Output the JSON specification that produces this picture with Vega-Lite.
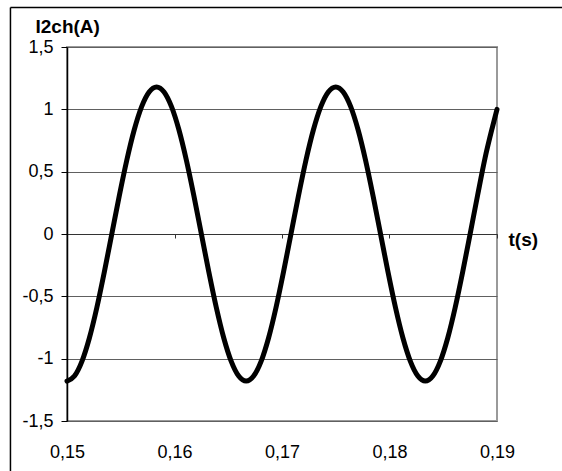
{
  "$schema": "https://vega.github.io/schema/vega-lite/v6.json",
  "width": 430,
  "height": 374,
  "autosize": {"type": "none"},
  "padding": {"left": 67, "top": 47, "right": 65, "bottom": 50},
  "background": "white",
  "config": {
    "font": "Liberation Sans",
    "view": {"stroke": "#9a9a9a", "strokeWidth": 2}
  },
  "data": {
    "values": [
      {"t": 0.15, "i": -1.18},
      {"t": 0.150694, "i": -1.1398},
      {"t": 0.151389, "i": -1.0219},
      {"t": 0.152083, "i": -0.8344},
      {"t": 0.152778, "i": -0.59},
      {"t": 0.153472, "i": -0.3054},
      {"t": 0.154167, "i": 0},
      {"t": 0.154861, "i": 0.3054},
      {"t": 0.155556, "i": 0.59},
      {"t": 0.15625, "i": 0.8344},
      {"t": 0.156944, "i": 1.0219},
      {"t": 0.157639, "i": 1.1398},
      {"t": 0.158333, "i": 1.18},
      {"t": 0.159028, "i": 1.1398},
      {"t": 0.159722, "i": 1.0219},
      {"t": 0.160417, "i": 0.8344},
      {"t": 0.161111, "i": 0.59},
      {"t": 0.161806, "i": 0.3054},
      {"t": 0.1625, "i": 0},
      {"t": 0.163194, "i": -0.3054},
      {"t": 0.163889, "i": -0.59},
      {"t": 0.164583, "i": -0.8344},
      {"t": 0.165278, "i": -1.0219},
      {"t": 0.165972, "i": -1.1398},
      {"t": 0.166667, "i": -1.18},
      {"t": 0.167361, "i": -1.1398},
      {"t": 0.168056, "i": -1.0219},
      {"t": 0.16875, "i": -0.8344},
      {"t": 0.169444, "i": -0.59},
      {"t": 0.170139, "i": -0.3054},
      {"t": 0.170833, "i": 0},
      {"t": 0.171528, "i": 0.3054},
      {"t": 0.172222, "i": 0.59},
      {"t": 0.172917, "i": 0.8344},
      {"t": 0.173611, "i": 1.0219},
      {"t": 0.174306, "i": 1.1398},
      {"t": 0.175, "i": 1.18},
      {"t": 0.175694, "i": 1.1398},
      {"t": 0.176389, "i": 1.0219},
      {"t": 0.177083, "i": 0.8344},
      {"t": 0.177778, "i": 0.59},
      {"t": 0.178472, "i": 0.3054},
      {"t": 0.179167, "i": 0},
      {"t": 0.179861, "i": -0.3054},
      {"t": 0.180556, "i": -0.59},
      {"t": 0.18125, "i": -0.8344},
      {"t": 0.181944, "i": -1.0219},
      {"t": 0.182639, "i": -1.1398},
      {"t": 0.183333, "i": -1.18},
      {"t": 0.184028, "i": -1.1398},
      {"t": 0.184722, "i": -1.0219},
      {"t": 0.185417, "i": -0.8344},
      {"t": 0.186111, "i": -0.59},
      {"t": 0.186806, "i": -0.3054},
      {"t": 0.1875, "i": 0},
      {"t": 0.188194, "i": 0.31},
      {"t": 0.188889, "i": 0.61},
      {"t": 0.189583, "i": 0.86},
      {"t": 0.19, "i": 1.0}
    ]
  },
  "layer": [
    {
      "mark": {"type": "line", "color": "black", "strokeWidth": 5, "interpolate": "monotone", "strokeCap": "round", "strokeJoin": "round"},
      "encoding": {
        "x": {
          "field": "t",
          "type": "quantitative",
          "scale": {"domain": [0.15, 0.19], "nice": false, "zero": false},
          "axis": {
            "orient": "bottom",
            "offset": -187,
            "values": [0.15, 0.16, 0.17, 0.18, 0.19],
            "labelExpr": "replace(toString(datum.value), '.', ',')",
            "grid": false,
            "domainColor": "#333333",
            "domainWidth": 1,
            "tickColor": "#333333",
            "tickSize": 4,
            "labelPadding": 205,
            "labelFlush": false,
            "labelOverlap": false,
            "labelFontSize": 18,
            "labelColor": "black",
            "title": "t(s)",
            "titleX": 441,
            "titleY": 11,
            "titleAlign": "left",
            "titleBaseline": "alphabetic",
            "titleFontSize": 19,
            "titleFontWeight": "bold",
            "titleColor": "black"
          }
        },
        "y": {
          "field": "i",
          "type": "quantitative",
          "scale": {"domain": [-1.5, 1.5], "nice": false, "zero": false},
          "axis": {
            "values": [-1.5, -1, -0.5, 0, 0.5, 1, 1.5],
            "labelExpr": "replace(toString(datum.value), '.', ',')",
            "grid": true,
            "gridColor": "#606060",
            "gridWidth": 1,
            "domainColor": "black",
            "domainWidth": 1.5,
            "tickColor": "black",
            "tickSize": 6,
            "labelPadding": 8,
            "labelFontSize": 18,
            "labelColor": "black",
            "title": "I2ch(A)",
            "titleAngle": 0,
            "titleX": -32,
            "titleY": -15,
            "titleAlign": "left",
            "titleBaseline": "alphabetic",
            "titleFontSize": 19,
            "titleFontWeight": "bold",
            "titleColor": "black"
          }
        }
      }
    },
    {
      "data": {"values": [{"edge": "top"}]},
      "mark": {"type": "rule", "stroke": "black", "strokeWidth": 1.5, "clip": false},
      "encoding": {
        "x": {"datum": 0.14474, "type": "quantitative"},
        "x2": {"datum": 0.25},
        "y": {"datum": 1.8168, "type": "quantitative"}
      }
    },
    {
      "data": {"values": [{"edge": "left"}]},
      "mark": {"type": "rule", "stroke": "black", "strokeWidth": 1.5, "clip": false},
      "encoding": {
        "x": {"datum": 0.14474, "type": "quantitative"},
        "y": {"datum": 1.8168, "type": "quantitative"},
        "y2": {"datum": -3}
      }
    }
  ]
}
